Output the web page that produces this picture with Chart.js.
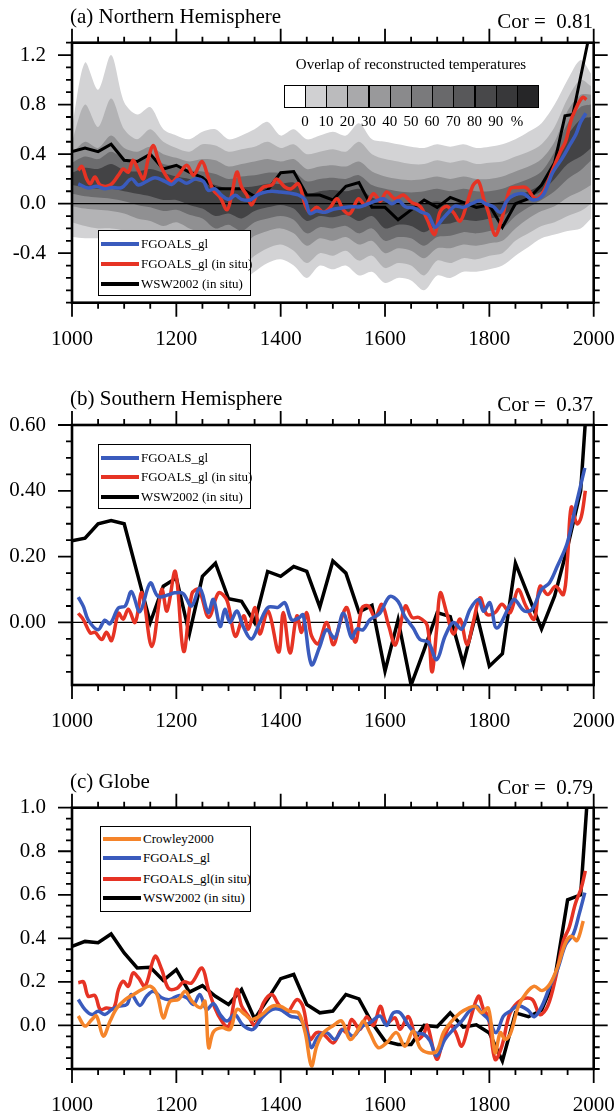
<!DOCTYPE html>
<html>
<head>
<meta charset="utf-8">
<title>FGOALS_gl hemispheric temperature</title>
<script src="https://cdn.jsdelivr.net/npm/chart.js@4.4.1/dist/chart.umd.min.js"></script>
<style>
  html, body { margin: 0; padding: 0; background: #fff; }
  #page { position: relative; width: 615px; height: 1115px; overflow: hidden; font-family: "Liberation Serif", "Times New Roman", serif; color: #000; }
  #page canvas { position: absolute; left: 0; }
  .ttl { position: absolute; left: 70px; font-size: 21px; line-height: 21px; white-space: pre; }
  .cor { position: absolute; right: 22px; font-size: 21px; line-height: 21px; white-space: pre; }
  .lgd { position: absolute; box-sizing: border-box; background: #fff; border: 1px solid #000; }
  .lgd div { position: absolute; left: 2px; height: 14px; line-height: 14px; font-size: 13px; white-space: nowrap; padding-left: 40px; }
  .lgd i { position: absolute; left: 0; top: 5px; width: 38px; height: 4px; }
  .cb-title { position: absolute; left: 280px; width: 262px; top: 56px; text-align: center; font-size: 15px; line-height: 16px; white-space: nowrap; }
  .cb-box { position: absolute; top: 85px; height: 23px; box-sizing: border-box; border: 1px solid #000; }
  .cb-lab { position: absolute; top: 113px; width: 30px; text-align: center; font-size: 15px; line-height: 16px; }
</style>
</head>
<body>
<div id="page">
  <canvas id="nh" width="615" height="345" style="top:0px"></canvas>
  <canvas id="sh" width="615" height="385" style="top:345px"></canvas>
  <canvas id="gl" width="615" height="385" style="top:730px"></canvas>

  <div class="ttl" style="top:6px">(a) Northern Hemisphere</div>
  <div class="cor" style="top:11px">Cor =  0.81</div>
  <div class="ttl" style="top:388px">(b) Southern Hemisphere</div>
  <div class="cor" style="top:394px">Cor =  0.37</div>
  <div class="ttl" style="top:771px">(c) Globe</div>
  <div class="cor" style="top:777px">Cor =  0.79</div>

  <div id="cbar"></div>

  <div class="lgd" style="left:98px;top:230px;width:153px;height:66px">
    <div style="top:6px"><i style="background:#3a5bbd"></i>FGOALS_gl</div>
    <div style="top:26px"><i style="background:#e63324"></i>FGOALS_gl (in situ)</div>
    <div style="top:46px"><i style="background:#000"></i>WSW2002 (in situ)</div>
  </div>
  <div class="lgd" style="left:98px;top:444px;width:153px;height:65px">
    <div style="top:6px"><i style="background:#3a5bbd"></i>FGOALS_gl</div>
    <div style="top:25px"><i style="background:#e63324"></i>FGOALS_gl (in situ)</div>
    <div style="top:45px"><i style="background:#000"></i>WSW2002 (in situ)</div>
  </div>
  <div class="lgd" style="left:100px;top:826px;width:151px;height:86px">
    <div style="top:5px"><i style="background:#f5842a"></i>Crowley2000</div>
    <div style="top:24px"><i style="background:#3a5bbd"></i>FGOALS_gl</div>
    <div style="top:45px"><i style="background:#e63324"></i>FGOALS_gl(in situ)</div>
    <div style="top:64px"><i style="background:#000"></i>WSW2002 (in situ)</div>
  </div>
</div>

<script>
const xLabels = [1000, 1200, 1400, 1600, 1800, 2000];

// (a) Northern Hemisphere
const nhLabels = [1.2, 0.8, 0.4, 0.0, -0.4];
const nhBlueYears = [1012,1031,1047,1063,1076,1095,1114,1127,1143,1159,1178,1191,1204,1220,1236,1252,1261,1274,1287,1300,1313,1325,1341,1354,1367,1383,1399,1418,1434,1447,1456,1469,1485,1501,1517,1536,1552,1568,1584,1597,1613,1626,1639,1655,1671,1683,1696,1709,1722,1734,1750,1766,1782,1792,1808,1821,1834,1848,1865,1884,1903,1921,1940,1955,1966,1975,1985];
const nhBlue = [0.16,0.126,0.14,0.12,0.13,0.13,0.2,0.15,0.18,0.21,0.18,0.155,0.195,0.165,0.2,0.18,0.107,0.12,0.067,0.035,0.067,0.035,0.03,0.067,0.09,0.1,0.094,0.085,0.07,0.03,-0.08,-0.06,-0.07,-0.045,-0.035,-0.025,-0.025,0,0.025,0.04,0,0.025,-0.025,-0.035,-0.07,-0.09,-0.19,-0.13,-0.07,-0.02,-0.03,0,0.025,0,-0.025,-0.07,0.025,0.07,0.08,0.03,0.07,0.25,0.37,0.48,0.56,0.66,0.73];
const nhRedYears = [1012,1019,1028,1035,1044,1054,1073,1089,1098,1108,1117,1127,1137,1146,1156,1165,1178,1191,1204,1220,1233,1249,1261,1271,1284,1297,1306,1316,1325,1335,1344,1354,1367,1383,1392,1408,1420,1434,1447,1456,1469,1482,1495,1508,1520,1533,1549,1562,1578,1591,1603,1619,1635,1651,1667,1680,1695,1705,1718,1731,1744,1757,1769,1779,1789,1798,1811,1824,1840,1855,1870,1889,1904,1921,1936,1946,1957,1965,1972,1980,1986];
const nhRed = [0.27,0.3,0.2,0.16,0.215,0.15,0.15,0.23,0.28,0.255,0.35,0.27,0.2,0.36,0.47,0.36,0.24,0.175,0.23,0.31,0.23,0.34,0.215,0.11,0.05,-0.05,0.07,0.255,0.135,0.07,-0.01,0.07,0.135,0.15,0.2,0.135,0.12,0.16,-0.01,-0.07,-0.03,-0.07,-0.03,0.04,-0.05,-0.08,0.04,-0.01,0.08,0.02,0.095,0.04,0.07,0.01,-0.02,-0.12,-0.25,-0.07,-0.02,-0.07,-0.14,0,0.15,0.18,0.04,-0.07,-0.255,-0.12,0.12,0.13,0.13,0.04,0.1,0.27,0.42,0.5,0.68,0.76,0.82,0.86,0.84];
const nhWswYears = [1000,1025,1050,1075,1100,1125,1150,1175,1200,1225,1250,1275,1300,1325,1350,1375,1400,1425,1450,1475,1500,1525,1550,1575,1600,1625,1650,1675,1700,1725,1750,1775,1800,1825,1850,1875,1900,1925,1945,1960,1990];
const nhWsw = [0.42,0.45,0.42,0.48,0.35,0.34,0.4,0.28,0.31,0.255,0.21,0.12,0.12,0.12,0.06,0.11,0.25,0.26,0.07,0.07,0.03,0.14,0.17,-0.03,-0.03,-0.13,-0.05,0.03,-0.03,0.05,0.01,-0.03,-0.01,-0.19,0,0.04,0.15,0.33,0.71,0.72,1.33];

// overlap of reconstructions (contour envelopes, outer to inner)
const overlapYears = [1000,1025,1050,1075,1100,1125,1150,1175,1200,1225,1250,1275,1300,1325,1350,1375,1400,1425,1450,1475,1500,1525,1550,1575,1600,1625,1650,1675,1700,1725,1750,1775,1800,1825,1850,1875,1900,1925,1950,1975,1995];
const overlapOuterHi = [0.62,1.14,0.92,1.2,0.82,0.72,0.78,0.6,0.55,0.52,0.58,0.6,0.52,0.55,0.6,0.66,0.55,0.6,0.52,0.55,0.58,0.55,0.65,0.52,0.5,0.48,0.46,0.45,0.48,0.46,0.48,0.45,0.46,0.48,0.52,0.58,0.65,0.8,1.0,1.16,1.05];
const overlapOuterLo = [-0.27,-0.28,-0.28,-0.3,-0.35,-0.42,-0.47,-0.5,-0.45,-0.5,-0.55,-0.62,-0.55,-0.62,-0.55,-0.48,-0.45,-0.5,-0.6,-0.5,-0.53,-0.5,-0.58,-0.55,-0.64,-0.6,-0.62,-0.7,-0.58,-0.6,-0.55,-0.55,-0.53,-0.5,-0.42,-0.35,-0.28,-0.25,-0.22,-0.2,-0.12];
const overlap20Hi = [0.5,0.8,0.62,0.85,0.6,0.52,0.6,0.5,0.45,0.42,0.48,0.47,0.42,0.44,0.46,0.5,0.45,0.48,0.4,0.42,0.44,0.42,0.5,0.4,0.36,0.34,0.32,0.32,0.35,0.33,0.35,0.32,0.33,0.34,0.38,0.42,0.48,0.62,0.85,1.0,0.95];
const overlap20Lo = [-0.15,-0.18,-0.2,-0.2,-0.22,-0.28,-0.3,-0.35,-0.3,-0.35,-0.4,-0.48,-0.42,-0.5,-0.42,-0.36,-0.33,-0.38,-0.48,-0.4,-0.42,-0.38,-0.46,-0.42,-0.52,-0.48,-0.5,-0.58,-0.46,-0.48,-0.44,-0.45,-0.42,-0.4,-0.3,-0.24,-0.18,-0.15,-0.1,-0.06,0];
const overlap50Hi = [0.4,0.5,0.45,0.55,0.45,0.42,0.46,0.4,0.37,0.34,0.36,0.35,0.3,0.32,0.34,0.36,0.34,0.36,0.28,0.3,0.31,0.3,0.34,0.26,0.22,0.2,0.19,0.2,0.22,0.2,0.22,0.2,0.2,0.22,0.26,0.3,0.36,0.5,0.75,0.88,0.88];
const overlap50Lo = [-0.02,-0.04,-0.05,-0.06,-0.08,-0.12,-0.14,-0.18,-0.15,-0.2,-0.24,-0.32,-0.28,-0.34,-0.26,-0.22,-0.2,-0.24,-0.34,-0.28,-0.3,-0.27,-0.33,-0.3,-0.4,-0.36,-0.38,-0.44,-0.36,-0.36,-0.33,-0.34,-0.32,-0.3,-0.2,-0.12,-0.06,-0.02,0.05,0.1,0.15];
const overlap70Hi = [0.33,0.38,0.36,0.42,0.36,0.34,0.37,0.32,0.3,0.27,0.26,0.24,0.2,0.22,0.23,0.25,0.25,0.26,0.18,0.2,0.21,0.2,0.23,0.15,0.12,0.1,0.09,0.1,0.12,0.1,0.12,0.1,0.1,0.12,0.16,0.2,0.26,0.42,0.65,0.78,0.8];
const overlap70Lo = [0.08,0.06,0.05,0.04,0.02,-0.01,-0.03,-0.06,-0.05,-0.09,-0.12,-0.2,-0.17,-0.22,-0.15,-0.12,-0.1,-0.13,-0.24,-0.19,-0.2,-0.18,-0.24,-0.2,-0.3,-0.27,-0.28,-0.34,-0.27,-0.26,-0.23,-0.24,-0.22,-0.2,-0.1,-0.03,0.03,0.1,0.2,0.27,0.35];
const overlap90Hi = [0.25,0.29,0.28,0.32,0.27,0.26,0.28,0.25,0.22,0.2,0.17,0.15,0.12,0.13,0.14,0.16,0.16,0.17,0.08,0.1,0.11,0.1,0.12,0.05,0.02,0,-0.01,0,0.02,0,0.02,0,0,0.02,0.06,0.1,0.16,0.32,0.55,0.68,0.7];
const overlap90Lo = [0.15,0.13,0.12,0.12,0.1,0.08,0.06,0.03,0.03,-0.01,-0.04,-0.1,-0.08,-0.12,-0.06,-0.03,-0.01,-0.04,-0.14,-0.1,-0.11,-0.09,-0.14,-0.1,-0.2,-0.17,-0.18,-0.23,-0.17,-0.16,-0.13,-0.14,-0.12,-0.1,-0.02,0.05,0.1,0.2,0.32,0.38,0.45];
const overlapLabels = ["0", "10", "20", "30", "40", "50", "60", "70", "80", "90", "%"];

// (b) Southern Hemisphere
const shLabels = [0.6, 0.4, 0.2, 0.0];
const shBlueYears = [1012,1022,1031,1050,1063,1073,1089,1102,1114,1130,1150,1165,1185,1197,1213,1229,1245,1261,1271,1284,1293,1303,1316,1328,1344,1360,1376,1395,1408,1421,1434,1443,1459,1475,1488,1504,1520,1536,1546,1558,1571,1590,1609,1625,1638,1654,1667,1683,1699,1715,1731,1747,1763,1779,1789,1801,1814,1840,1848,1867,1882,1900,1915,1930,1949,1965,1983];
const shBlue = [0.077,0.048,0.008,-0.022,0.007,-0.004,0.044,0.05,0.094,0.033,0.12,0.079,0.084,0.09,0.088,0.05,0.104,0.03,0.07,-0.012,0.04,0,0.035,-0.012,-0.05,0,0.046,0.046,0.06,0.008,0.013,0.023,-0.128,-0.073,-0.022,-0.047,0.028,-0.047,-0.02,-0.022,0.008,0.028,0.079,0.064,0.018,-0.017,-0.052,-0.06,-0.113,-0.042,0,-0.02,0.04,0.07,0.034,0.06,-0.017,0.054,0.07,0.035,0.04,0.1,0.12,0.17,0.24,0.35,0.47];
const shRedYears = [1012,1022,1035,1044,1057,1066,1076,1089,1098,1108,1121,1134,1153,1172,1182,1198,1214,1230,1243,1262,1281,1297,1313,1329,1338,1351,1360,1376,1396,1405,1418,1431,1440,1450,1459,1472,1488,1501,1514,1527,1543,1556,1568,1581,1594,1607,1620,1639,1652,1665,1681,1690,1699,1706,1718,1731,1744,1757,1769,1782,1795,1811,1824,1840,1855,1870,1886,1897,1912,1927,1942,1950,1957,1968,1976,1984];
const shRed = [0.028,0.008,-0.032,-0.03,-0.052,-0.03,-0.055,0.028,0.01,0.04,0,0.09,-0.073,0.1,0.035,0.155,-0.088,0.088,0.1,0.016,0.09,0.067,-0.042,0.02,-0.02,0.045,-0.035,0.035,-0.09,0.03,-0.093,0.02,-0.03,0.03,-0.04,-0.065,0,-0.068,0,0.045,-0.06,0.045,0.05,0.016,0.055,-0.01,-0.068,0.05,0.015,0.015,-0.01,-0.15,-0.02,0.09,0.03,-0.035,0.01,-0.068,0,0.075,0.025,0.03,0.055,0.03,0.1,0.05,0.01,0.11,0.085,0.11,0.085,0.2,0.35,0.3,0.32,0.4];
const shWswYears = [1000,1025,1050,1075,1100,1125,1150,1175,1200,1225,1250,1275,1300,1325,1350,1375,1400,1425,1450,1475,1500,1525,1550,1575,1600,1625,1650,1675,1700,1725,1750,1775,1800,1825,1850,1875,1900,1925,1950,1975,1990];
const shWsw = [0.248,0.256,0.3,0.31,0.3,0.15,0,0.11,0.135,-0.035,0.14,0.18,0.072,0.064,0,0.155,0.14,0.17,0.155,0.047,0.187,0.15,0.032,0.052,-0.148,0.008,-0.19,-0.083,0.03,0.018,-0.125,0.03,-0.133,-0.095,0.18,0.08,-0.02,0.08,0.23,0.4,0.75];

// (c) Globe
const glLabels = [1.0, 0.8, 0.6, 0.4, 0.2, 0.0];
const glCrowleyYears = [1012,1025,1038,1047,1060,1073,1086,1102,1118,1134,1150,1163,1175,1188,1204,1217,1230,1246,1255,1262,1271,1287,1303,1316,1332,1344,1364,1383,1399,1418,1434,1447,1459,1469,1482,1501,1517,1533,1549,1559,1571,1587,1603,1622,1638,1654,1667,1683,1699,1712,1728,1744,1760,1773,1785,1798,1811,1821,1830,1840,1856,1871,1886,1901,1916,1931,1946,1957,1968,1980];
const glCrowley = [0.043,-0.003,0.027,0.043,-0.049,0.02,0.08,0.119,0.142,0.165,0.18,0.142,0.035,0.111,0.119,0.157,0.111,0.081,0.111,-0.102,-0.03,-0.01,-0.018,0.073,0.05,0.027,0.05,0.088,0.088,0.065,0.058,-0.033,-0.186,-0.095,-0.033,0,0.02,-0.064,-0.018,0.02,-0.033,-0.102,-0.08,-0.033,-0.095,-0.025,-0.102,-0.125,-0.118,-0.033,0.02,0.058,0.08,0.088,0.058,0.08,-0.125,-0.033,-0.064,-0.04,0.09,0.15,0.18,0.16,0.19,0.27,0.38,0.41,0.39,0.48];
const glBlueYears = [1012,1025,1038,1050,1063,1076,1089,1105,1114,1130,1143,1156,1172,1188,1204,1220,1233,1245,1258,1271,1284,1297,1312,1328,1347,1364,1383,1399,1418,1437,1450,1459,1472,1488,1504,1520,1539,1555,1571,1590,1603,1616,1629,1645,1657,1674,1686,1699,1715,1731,1747,1763,1776,1785,1798,1813,1827,1840,1855,1874,1886,1901,1916,1931,1946,1961,1972,1983];
const glBlue = [0.119,0.073,0.05,0.065,0.05,0.073,0.088,0.096,0.142,0.092,0.134,0.157,0.127,0.119,0.137,0.127,0.096,0.142,0.073,0.1,0.05,0.02,0.05,0,-0.018,0.035,0.073,0.073,0.043,0.03,-0.033,-0.102,-0.049,-0.033,-0.064,-0.018,-0.049,-0.006,0.012,0.043,0,0.058,0.058,0,-0.033,-0.04,-0.07,-0.14,-0.064,-0.018,0.02,0.07,0.088,0.058,0.028,-0.033,0.043,0.066,0.09,0.07,0.04,0.09,0.18,0.26,0.37,0.42,0.51,0.61];
const glRedYears = [1012,1022,1031,1044,1054,1066,1080,1089,1098,1108,1117,1127,1140,1159,1172,1185,1201,1214,1229,1249,1261,1274,1287,1300,1316,1325,1338,1351,1367,1383,1396,1412,1431,1443,1456,1469,1482,1501,1517,1527,1536,1552,1565,1578,1591,1603,1619,1629,1645,1661,1674,1681,1699,1712,1725,1735,1747,1760,1779,1789,1798,1811,1824,1840,1863,1882,1897,1912,1927,1942,1953,1965,1976,1984];
const glRed = [0.196,0.2,0.134,0.137,0.073,0.08,0.08,0.165,0.203,0.18,0.241,0.22,0.18,0.317,0.257,0.17,0.17,0.2,0.195,0.264,0.17,0.08,0.02,-0.01,0.165,0.09,0.043,0,0.104,0.142,0.096,0.058,0.119,0.085,-0.064,-0.033,-0.04,-0.08,-0.018,-0.033,0.027,-0.018,0.04,0,0.088,0.012,0.035,-0.018,0.04,-0.064,-0.04,0,-0.155,-0.064,0,-0.03,-0.095,0,0.134,0.073,0.04,-0.156,-0.095,0.058,0.12,0.12,0.05,0.09,0.22,0.39,0.45,0.56,0.63,0.71];
const glWswYears = [1000,1025,1050,1075,1100,1125,1150,1175,1200,1225,1250,1275,1300,1325,1350,1375,1400,1425,1450,1475,1500,1525,1550,1575,1600,1625,1650,1675,1700,1725,1750,1775,1800,1825,1850,1875,1900,1925,1950,1975,1988];
const glWsw = [0.363,0.386,0.38,0.42,0.333,0.264,0.267,0.207,0.256,0.153,0.183,0.134,0.096,0.165,0.03,0.12,0.215,0.234,0.096,0.058,0.066,0.142,0.122,0.012,-0.072,-0.087,-0.087,0,-0.006,0.058,-0.008,0.003,-0.035,-0.163,0.058,0.04,0.07,0.21,0.577,0.6,1.05];

const BLUE = "#3a5bbd", RED = "#e63324", ORANGE = "#f5842a", BLACK = "#000000";
const cbarShades = ["#ffffff","#d0d0d2","#bbbbbd","#a9a9ab","#99999b","#8a8a8c","#7a7a7c","#69696b","#58585a","#48484a","#38383a","#262628"];
const FONT = "'Liberation Serif', 'Times New Roman', serif";

function pts(xs, ys) {
    return xs.map((x, i) => ({ x: x, y: ys[i] }));
}

function lineSet(xs, ys, color, width, tension, order) {
    return {
        data: pts(xs, ys),
        borderColor: color,
        borderWidth: width,
        pointRadius: 0,
        tension: tension,
        fill: false,
        order: order
    };
}

// upper edge filled down to lower edge
function band(xs, hi, lo, color, order) {
    return [
        { data: pts(xs, hi), borderColor: "rgba(0,0,0,0)", borderWidth: 0, pointRadius: 0, tension: 0.3, fill: "+1", backgroundColor: color, order: order },
        { data: pts(xs, lo), borderColor: "rgba(0,0,0,0)", borderWidth: 0, pointRadius: 0, tension: 0.3, fill: false, order: order }
    ];
}

function zeroLine() {
    return {
        data: pts([xLabels[0], xLabels[xLabels.length - 1]], [0, 0]),
        borderColor: BLACK, borderWidth: 1.2, pointRadius: 0, fill: false, order: 4
    };
}

// box, outward major/minor ticks on all four sides
const framePlugin = {
    id: "frame",
    afterDraw(chart, args, opts) {
        const ctx = chart.ctx;
        const a = chart.chartArea;
        const sx = chart.scales.x, sy = chart.scales.y;
        ctx.save();
        ctx.strokeStyle = "#000";
        ctx.lineWidth = 1.8;
        ctx.beginPath();
        for (let v = sx.min; v <= sx.max; v += 50) {
            const px = sx.getPixelForValue(v);
            const len = (v % 200 === 0) ? 14 : 6;
            ctx.moveTo(px, a.top); ctx.lineTo(px, a.top - len);
            ctx.moveTo(px, a.bottom); ctx.lineTo(px, a.bottom + len);
        }
        const k0 = Math.ceil(sy.min / opts.minorStep - 1e-6);
        const k1 = Math.floor(sy.max / opts.minorStep + 1e-6);
        for (let k = k0; k <= k1; k++) {
            const v = k * opts.minorStep;
            const major = opts.major.some(m => Math.abs(m - v) < 1e-6);
            const py = sy.getPixelForValue(v);
            const len = major ? 14 : 6;
            ctx.moveTo(a.left, py); ctx.lineTo(a.left - len, py);
            ctx.moveTo(a.right, py); ctx.lineTo(a.right + len, py);
        }
        ctx.stroke();
        ctx.lineWidth = 2.6;
        ctx.strokeRect(a.left, a.top, a.right - a.left, a.bottom - a.top);
        ctx.restore();
    }
};

function makePanel(id, cfg) {
    return new Chart(document.getElementById(id), {
        type: "line",
        data: { datasets: cfg.datasets },
        options: {
            responsive: false,
            animation: false,
            events: [],
            layout: { padding: { top: cfg.top, right: 21.3, left: 0, bottom: 0 } },
            scales: {
                x: {
                    type: "linear",
                    min: 1000,
                    max: 2000,
                    afterBuildTicks: s => { s.ticks = xLabels.map(v => ({ value: v })); },
                    afterFit: s => { s.height = cfg.xAxisH; s.paddingLeft = 0; s.paddingRight = 0; },
                    grid: { display: false, drawTicks: false },
                    border: { display: false },
                    ticks: { color: "#000", font: { family: FONT, size: 21 }, padding: 24, maxRotation: 0, autoSkip: false, callback: v => String(v) }
                },
                y: {
                    type: "linear",
                    min: cfg.yMin,
                    max: cfg.yMax,
                    afterBuildTicks: s => { s.ticks = cfg.yLabels.map(v => ({ value: v })); },
                    afterFit: s => { s.width = 72; s.paddingTop = 0; s.paddingBottom = 0; },
                    grid: { display: false, drawTicks: false },
                    border: { display: false },
                    ticks: { color: "#000", font: { family: FONT, size: 21 }, padding: 26, autoSkip: false, callback: v => v.toFixed(cfg.digits) }
                }
            },
            plugins: {
                legend: { display: false },
                tooltip: { enabled: false },
                frame: { major: cfg.yLabels, minorStep: cfg.minorStep }
            }
        },
        plugins: [framePlugin]
    });
}

function buildColorbar() {
    const holder = document.getElementById("cbar");
    let html = '<div class="cb-title">Overlap of reconstructed temperatures</div>';
    cbarShades.forEach((c, i) => {
        html += '<div class="cb-box" style="left:' + (283.7 + i * 21.2) + 'px;width:22.2px;background:' + c + '"></div>';
    });
    overlapLabels.forEach((t, i) => {
        html += '<div class="cb-lab" style="left:' + (283.7 + (i + 1) * 21.2 - 15) + 'px">' + t + '</div>';
    });
    holder.innerHTML = html;
}

makePanel("nh", {
    top: 42.7, xAxisH: 42.3, yMin: -0.8, yMax: 1.3, yLabels: nhLabels, digits: 1, minorStep: 0.1,
    datasets: [
        lineSet(nhBlueYears, nhBlue, BLUE, 3.5, 0.35, 1),
        lineSet(nhRedYears, nhRed, RED, 3.5, 0.35, 2),
        lineSet(nhWswYears, nhWsw, BLACK, 3, 0, 3),
        zeroLine(),
        ...band(overlapYears, overlapOuterHi, overlapOuterLo, "#d3d3d5", 10),
        ...band(overlapYears, overlap20Hi, overlap20Lo, "#b3b3b5", 9),
        ...band(overlapYears, overlap50Hi, overlap50Lo, "#909092", 8),
        ...band(overlapYears, overlap70Hi, overlap70Lo, "#6c6c6e", 7),
        ...band(overlapYears, overlap90Hi, overlap90Lo, "#434345", 6)
    ]
});

makePanel("sh", {
    top: 80, xAxisH: 45, yMin: -0.19, yMax: 0.6, yLabels: shLabels, digits: 2, minorStep: 0.05,
    datasets: [
        lineSet(shBlueYears, shBlue, BLUE, 3.5, 0.35, 1),
        lineSet(shRedYears, shRed, RED, 3.5, 0.35, 2),
        lineSet(shWswYears, shWsw, BLACK, 3.5, 0, 3),
        zeroLine()
    ]
});

makePanel("gl", {
    top: 77.7, xAxisH: 46, yMin: -0.2, yMax: 1.0, yLabels: glLabels, digits: 1, minorStep: 0.05,
    datasets: [
        lineSet(glCrowleyYears, glCrowley, ORANGE, 3.5, 0.35, 0),
        lineSet(glBlueYears, glBlue, BLUE, 3.5, 0.35, 1),
        lineSet(glRedYears, glRed, RED, 3.5, 0.35, 2),
        lineSet(glWswYears, glWsw, BLACK, 3.5, 0, 3),
        zeroLine()
    ]
});

buildColorbar();
</script>
</body>
</html>
